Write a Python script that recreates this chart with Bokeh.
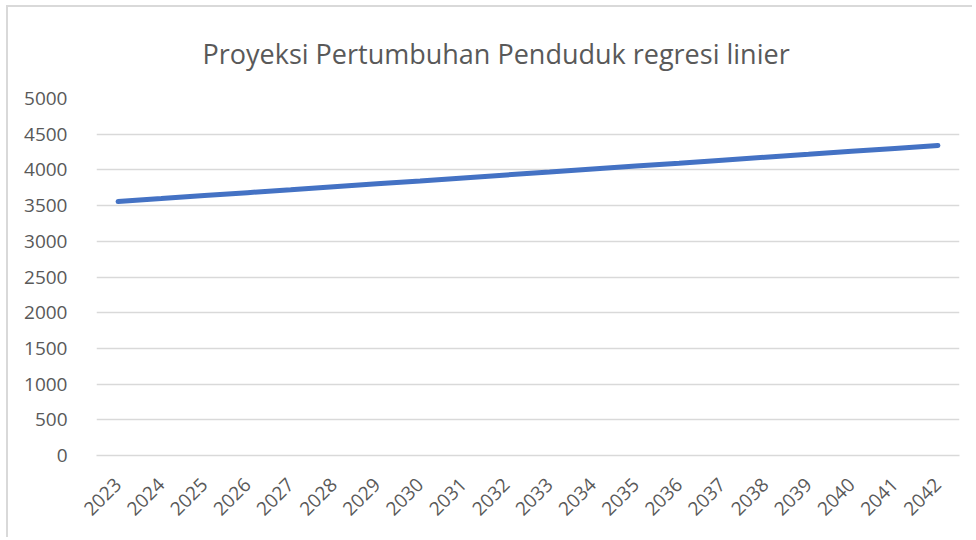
import math
from bokeh.plotting import figure
from bokeh.models import FixedTicker, Title
from bokeh.embed import file_html
from bokeh.resources import INLINE

years = [str(y) for y in range(2023, 2043)]
population = [3557, 3598, 3640, 3681, 3722, 3764, 3805, 3846, 3888, 3929,
              3970, 4012, 4053, 4094, 4136, 4177, 4218, 4260, 4301, 4342]
y_ticks = [0, 500, 1000, 1500, 2000, 2500, 3000, 3500, 4000, 4500, 5000]

p = figure(x_range=years, y_range=(0, 5000), width=966, height=532,
           output_backend="svg", toolbar_location=None,
           min_border_left=88, min_border_right=15, min_border_top=91,
           min_border_bottom=84)

p.title = Title(text="Proyeksi Pertumbuhan Penduduk regresi linier",
                align="left", vertical_align="top",
                text_font="Open Sans", text_font_size="27px",
                text_font_style="normal", text_color="#595959", standoff=50,
                offset=106)

p.line(years, population, line_color="#4472C4", line_width=5, line_cap="round")

p.outline_line_color = None
p.xgrid.grid_line_color = None
p.ygrid.grid_line_color = "#D9D9D9"
p.ygrid.grid_line_width = 1.5
p.yaxis.ticker = FixedTicker(ticks=y_ticks)

for ax in (p.xaxis[0], p.yaxis[0]):
    ax.axis_line_color = None
    ax.major_tick_line_color = None
    ax.minor_tick_line_color = None
    ax.major_label_text_font = "Open Sans"
    ax.major_label_text_font_size = "19px"
    ax.major_label_text_color = "#595959"

p.xaxis.axis_line_color = "#D9D9D9"
p.xaxis.axis_line_width = 1.5
p.xaxis.major_label_orientation = math.pi / 4
p.xaxis.major_label_standoff = 20
p.yaxis.major_label_standoff = 23
p.styles = {"margin-left": "6px", "margin-top": "5px",
            "border-top": "2px solid #D9D9D9", "border-left": "2px solid #D9D9D9"}

open("out.html", "w").write(file_html(p, INLINE))
